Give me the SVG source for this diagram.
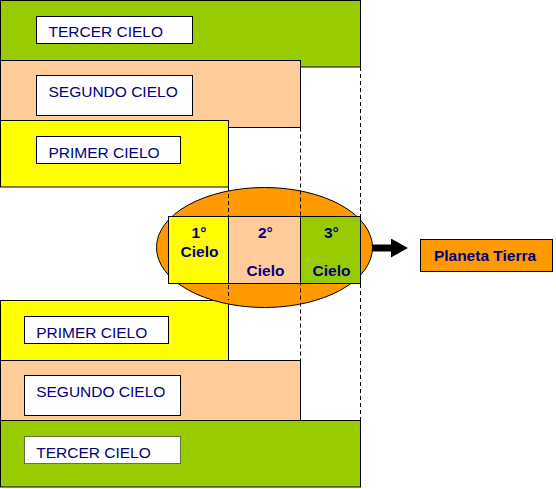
<svg xmlns="http://www.w3.org/2000/svg" width="556" height="489" viewBox="0 0 556 489">
<style>
.band{stroke:#000;stroke-width:1}
.g{fill:#99CC00}.p{fill:#FFCC99}.y{fill:#FFFF00}.o{fill:#FF9900}
.lbl{fill:#fff;stroke:#000;stroke-width:1}
.t{font-family:"Liberation Sans",Arial,sans-serif;font-size:15.5px;fill:#000080}
.b{font-family:"Liberation Sans",Arial,sans-serif;font-size:15.5px;font-weight:bold;fill:#000080;text-anchor:middle}
.dash{stroke:#000;stroke-width:1;stroke-dasharray:4 3;fill:none}
</style>
<defs>
<marker id="ah" markerWidth="17" markerHeight="19" refX="0" refY="9.5" orient="auto" markerUnits="userSpaceOnUse">
<path d="M0,0 L17,9.5 L0,19 Z" fill="#000"/>
</marker>
</defs>
<g id="top-tercer">
<rect class="band g" x="0.5" y="0.5" width="360" height="66.5"/>
<rect class="lbl" x="36.5" y="16.5" width="156" height="27"/>
<text class="t" x="48.5" y="37.3">TERCER CIELO</text>
</g>
<g id="top-segundo">
<rect class="band p" x="0.5" y="60.5" width="300" height="67"/>
<rect class="lbl" x="36.5" y="75.5" width="156" height="40"/>
<text class="t" x="48.5" y="96.7">SEGUNDO CIELO</text>
</g>
<g id="top-primer">
<rect class="band y" x="0.5" y="120.5" width="228" height="66.5"/>
<rect class="lbl" x="36.5" y="136.5" width="144" height="27"/>
<text class="t" x="48.5" y="157.7">PRIMER CIELO</text>
</g>
<g id="bottom-primer">
<rect class="band y" x="0.5" y="300.5" width="228" height="60"/>
<rect class="lbl" x="24.5" y="316.5" width="144" height="27"/>
<text class="t" x="36.2" y="338">PRIMER CIELO</text>
</g>
<g id="bottom-segundo">
<rect class="band p" x="0.5" y="360.5" width="300" height="60"/>
<rect class="lbl" x="24.5" y="375.5" width="156" height="40"/>
<text class="t" x="36.2" y="396.7">SEGUNDO CIELO</text>
</g>
<g id="bottom-tercer">
<rect class="band g" x="0.5" y="420.5" width="360" height="66.5"/>
<rect x="24.5" y="436.5" width="156" height="27" fill="#fff" stroke="#000" stroke-width="1" stroke-dasharray="1 1"/>
<text class="t" x="36.2" y="457.7">TERCER CIELO</text>
</g>
<g id="ellipse">
<ellipse cx="264.5" cy="247.5" rx="108" ry="60" class="o" stroke="#000" stroke-width="1"/>
</g>
<g id="connectors">
<line class="dash" x1="228.5" y1="187" x2="228.5" y2="300"/>
<line class="dash" x1="300.5" y1="127.5" x2="300.5" y2="360"/>
<line class="dash" x1="360.5" y1="67" x2="360.5" y2="420"/>
<line x1="372" y1="248" x2="391" y2="248" stroke="#000" stroke-width="7" marker-end="url(#ah)"/>
</g>
<g id="cielo-1">
<rect class="band y" x="168.5" y="216.5" width="60" height="67"/>
<text class="b" x="199" y="237.7">1°</text>
<text class="b" x="199.5" y="257">Cielo</text>
</g>
<g id="cielo-2">
<rect class="band p" x="228.5" y="216.5" width="72" height="67"/>
<text class="b" x="265.3" y="237.7">2°</text>
<text class="b" x="265.5" y="276">Cielo</text>
</g>
<g id="cielo-3">
<rect class="band g" x="300.5" y="216.5" width="60" height="67"/>
<text class="b" x="331.3" y="237.7">3°</text>
<text class="b" x="331.5" y="276">Cielo</text>
</g>
<g id="planeta">
<rect class="band o" x="420.5" y="239.5" width="132" height="32"/>
<text class="b" x="485" y="261">Planeta Tierra</text>
</g>
</svg>
